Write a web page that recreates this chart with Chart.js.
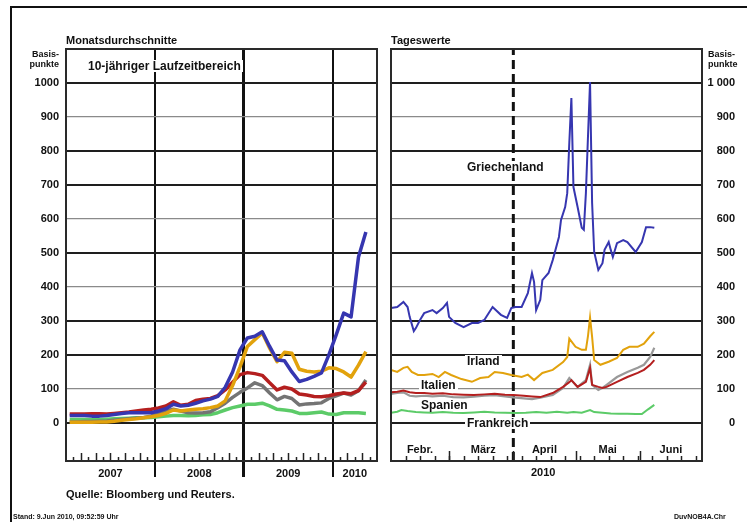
<!DOCTYPE html>
<html>
<head>
<meta charset="utf-8">
<script src="https://cdn.jsdelivr.net/npm/chart.js@4"></script>
<style>
  body { margin: 0; width: 747px; height: 522px; overflow: hidden; position: relative; background: #fff;
         font-family: 'Liberation Sans', Arial, sans-serif; font-weight: bold; color: #111; }
  canvas { position: absolute; left: 0; top: 0; }
  .t { position: absolute; white-space: nowrap; line-height: 1; }
  .bg { background: #fff; padding: 0 2px; }
  #outer { position: absolute; left: 10px; top: 6px; width: 737px; height: 516px;
           border-top: 2px solid #111; border-left: 2px solid #111; }
</style>
</head>
<body>
<div id="outer"></div>
<canvas id="left" width="747" height="522"></canvas>
<canvas id="right" width="747" height="522"></canvas>

<div class="t" style="left:66px;top:35px;font-size:11px">Monatsdurchschnitte</div>
<div class="t" style="left:391px;top:35px;font-size:11px">Tageswerte</div>
<div class="t" style="right:688px;top:49px;font-size:9px;line-height:10px;text-align:right">Basis-<br>punkte</div>
<div class="t" style="left:708px;top:49px;font-size:9px;line-height:10px">Basis-<br>punkte</div>
<div class="t bg" style="left:86px;top:60px;font-size:12px">10-jähriger Laufzeitbereich</div>

<div class="t bg" style="left:465px;top:161px;font-size:12px">Griechenland</div>
<div class="t bg" style="left:465px;top:355px;font-size:12px">Irland</div>
<div class="t bg" style="left:419px;top:379px;font-size:12px">Italien</div>
<div class="t bg" style="left:419px;top:399px;font-size:12px">Spanien</div>
<div class="t bg" style="left:465px;top:417px;font-size:12px">Frankreich</div>

<div class="t" style="left:531px;top:467px;font-size:11px">2010</div>
<div class="t" style="left:66px;top:489px;font-size:11px">Quelle: Bloomberg und Reuters.</div>
<div class="t" style="left:13px;top:513px;font-size:7px">Stand: 9.Jun 2010, 09:52:59 Uhr</div>
<div class="t" style="left:674px;top:513px;font-size:7px">DuvNOB4A.Chr</div>

<script>
// monthly averages, Jan 2007 .. May 2010
const grMonthly = [22,22,22,20,20,22,25,28,30,30,30,30, 35,42,55,50,52,58,65,70,78,105,150,215,
                   250,255,268,225,185,183,150,122,128,137,147,200, 260,323,312,488,562];
const ieMonthly = [2,2,2,2,3,3,5,8,10,12,15,18, 22,28,38,35,38,40,42,45,50,65,110,165,
                   225,245,265,220,180,208,205,158,152,150,152,162, 160,150,135,170,210];
const itMonthly = [26,26,26,27,27,26,28,30,32,35,38,40, 44,50,62,52,55,66,70,72,80,97,120,142,
                   148,145,140,118,97,105,100,85,82,78,77,80, 85,88,86,95,120];
const esMonthly = [3,3,4,4,5,6,8,10,12,14,16,20, 28,35,40,35,30,29,30,33,45,58,75,90,
                   103,118,110,88,68,78,72,53,56,57,59,72, 80,88,82,95,126];
const frMonthly = [10,10,10,10,10,11,12,13,14,15,15,16, 18,20,22,22,21,22,24,25,30,38,45,50,
                   55,55,58,50,40,38,35,28,28,30,32,26, 25,30,30,30,28];

const years = ['2007', '2008', '2009', '2010'];
const yearMid = [6, 18, 30, 39];
const yearBreaks = [12, 24, 36];

// daily values, day 0 = 1 Feb 2010
const grDays = [0,3,6,8,9,11,12,14,16,20,22,25,27,28,31,35,39,42,45,49,53,56,58,60,63,66,68,69,70,72,73,76,78,81,82,84,85,86,87,88,90,92,93,94,95,96,97,98,100,102,103,105,106,107,109,112,114,118,121,123,125,127];
const grVals = [338,341,356,341,312,270,279,303,323,332,323,338,353,312,294,282,294,294,303,341,318,309,338,341,341,382,441,415,332,362,420,441,479,547,597,635,676,824,956,694,635,574,568,676,841,1003,647,503,450,470,509,532,509,488,529,538,532,503,532,576,576,574];
const ieDays = [0,3,6,8,10,13,16,20,23,26,29,34,39,43,47,50,54,58,63,66,69,73,78,83,85,86,89,92,94,95,96,97,98,101,105,109,112,115,119,122,125,127];
const ieVals = [156,150,162,165,150,141,141,144,135,150,141,129,121,132,135,150,147,141,135,142,126,147,156,179,194,248,224,215,215,255,310,253,185,171,180,191,215,224,224,233,255,268];
const itDays = [0,3,6,9,12,16,20,25,30,35,40,45,50,55,59,64,68,72,78,83,86,87,90,94,96,97,100,102,104,109,114,119,122,125,127];
const itVals = [90,92,95,90,88,88,86,87,84,83,82,84,86,83,82,80,78,76,88,106,120,126,106,121,162,112,106,103,106,121,135,147,156,171,185];
const esDays = [0,3,6,9,12,16,20,25,30,35,40,45,50,55,59,64,68,72,78,83,86,90,94,96,97,100,102,104,109,114,119,122,125,127];
const esVals = [85,88,90,80,78,80,78,80,76,75,77,80,82,78,75,72,70,74,82,103,132,106,126,171,112,97,103,112,135,150,162,171,194,221];
const frDays = [0,3,5,8,12,16,20,25,30,35,40,45,50,55,60,65,70,75,80,85,88,92,96,98,102,106,110,114,118,121,124,127];
const frVals = [30,33,38,35,32,31,30,32,30,29,31,33,31,30,29,30,32,30,33,30,32,30,38,32,30,28,27,27,26,26,40,53];

const months = ['Febr.', 'März', 'April', 'Mai', 'Juni'];
const monthMid = [14, 44.5, 74, 104.5, 135];
const monthStart = [28, 59, 89, 120];
const markerDay = 59;

const yTicks = [0,100,200,300,400,500,600,700,800,900,1000];
const thinLines = [100, 400, 600, 900];

const BLUE = '#3636b0', ORANGE = '#e2a20c', RED = '#b41f1f', GRAY = '#747474', GREEN = '#5ccb68';
const FONT = { family: "'Liberation Sans', Arial, sans-serif", size: 11, weight: 'bold' };

const monthPos = grMonthly.map((_, i) => i + 0.5);
const pts = (xs, ys) => xs.map((x, i) => ({ x, y: ys[i] }));

const gridColor = c => thinLines.includes(c.tick.value) ? '#8a8a8a' : '#1e1e1e';
const gridWidth = c => thinLines.includes(c.tick.value) ? 1.2 : 2;

// plot frame and inner tick marks along the bottom
const framePlugin = {
  id: 'frame',
  afterDraw(chart, args, opts) {
    const { ctx, chartArea: a, scales } = chart;
    ctx.save();
    ctx.strokeStyle = '#222';
    ctx.lineWidth = 1.5;
    (opts.marks || []).forEach(m => {
      const x = Math.round(scales.x.getPixelForValue(m.v)) + 0.5;
      ctx.beginPath();
      ctx.moveTo(x, a.bottom);
      ctx.lineTo(x, a.bottom - m.len);
      ctx.stroke();
    });
    ctx.lineWidth = 2;
    ctx.strokeStyle = '#2a2a2a';
    ctx.strokeRect(a.left, a.top, a.right - a.left, a.bottom - a.top);
    ctx.restore();
  }
};

const baseY = {
  type: 'linear', min: -112, max: 1100,
  afterBuildTicks: s => { s.ticks = yTicks.map(v => ({ value: v })); },
  grid: { color: gridColor, lineWidth: gridWidth, drawTicks: false },
  border: { display: false },
  ticks: { font: FONT, color: '#111', padding: 7 }
};

const leftMarks = [];
for (let m = 1; m < 42; m++) {
  if (!yearBreaks.includes(m)) leftMarks.push({ v: m, len: m % 2 ? 4 : 8 });
}

new Chart(document.getElementById('left'), {
  type: 'line',
  data: {
    datasets: [
      { data: pts(monthPos, grMonthly), borderColor: BLUE, borderWidth: 3.5 },
      { data: pts(monthPos, ieMonthly), borderColor: ORANGE, borderWidth: 3.5 },
      { data: pts(monthPos, itMonthly), borderColor: RED, borderWidth: 3.5 },
      { data: pts(monthPos, esMonthly), borderColor: GRAY, borderWidth: 3.5 },
      { data: pts(monthPos, frMonthly), borderColor: GREEN, borderWidth: 3.5 }
    ]
  },
  options: {
    responsive: false, animation: false,
    layout: { padding: { left: 10, top: 49, right: 370, bottom: 0 } },
    elements: { point: { radius: 0 }, line: { tension: 0, borderJoinStyle: 'round' } },
    plugins: { legend: { display: false }, tooltip: { enabled: false }, frame: { marks: leftMarks } },
    scales: {
      x: {
        type: 'linear', min: 0, max: 42,
        afterBuildTicks: s => { s.ticks = yearMid.concat(yearBreaks).map(v => ({ value: v })); },
        afterFit: s => { s.height = 61; },
        grid: {
          color: c => yearBreaks.includes(c.tick.value) ? '#111' : 'rgba(0,0,0,0)',
          lineWidth: c => c.tick.value === 24 ? 3 : 2,
          tickLength: 16
        },
        border: { display: false },
        ticks: {
          autoSkip: false, maxRotation: 0, font: FONT, color: '#111', padding: -10,
          callback: v => { const i = yearMid.indexOf(v); return i >= 0 ? years[i] : ''; }
        }
      },
      y: Object.assign({}, baseY, {
        position: 'left',
        afterFit: s => { s.width = 56; },
        ticks: Object.assign({}, baseY.ticks, { callback: v => String(v) })
      })
    }
  },
  plugins: [framePlugin]
});

const rightMarks = [];
for (let d = 7; d < 150; d += 7) rightMarks.push({ v: d, len: 5 });
monthStart.forEach(d => rightMarks.push({ v: d, len: 10 }));

new Chart(document.getElementById('right'), {
  type: 'line',
  data: {
    datasets: [
      { data: pts(grDays, grVals), borderColor: BLUE, borderWidth: 2 },
      { data: pts(ieDays, ieVals), borderColor: ORANGE, borderWidth: 2 },
      { data: pts(itDays, itVals), borderColor: RED, borderWidth: 2 },
      { data: pts(esDays, esVals), borderColor: '#999', borderWidth: 2.2 },
      { data: pts(frDays, frVals), borderColor: GREEN, borderWidth: 2 },
      { data: [{ x: markerDay, y: -112 }, { x: markerDay, y: 1100 }], borderColor: '#111', borderWidth: 3, borderDash: [9, 5] }
    ]
  },
  options: {
    responsive: false, animation: false,
    layout: { padding: { left: 391, top: 49, right: 12, bottom: 0 } },
    elements: { point: { radius: 0 }, line: { tension: 0 } },
    plugins: { legend: { display: false }, tooltip: { enabled: false }, frame: { marks: rightMarks } },
    scales: {
      x: {
        type: 'linear', min: 0, max: 150,
        afterBuildTicks: s => { s.ticks = monthMid.map(v => ({ value: v })); },
        afterFit: s => { s.height = 61; },
        grid: { display: false, drawTicks: false },
        border: { display: false },
        ticks: {
          autoSkip: false, maxRotation: 0, mirror: true, font: FONT, color: '#111', padding: 4,
          callback: v => months[monthMid.indexOf(v)]
        }
      },
      y: Object.assign({}, baseY, {
        position: 'right',
        afterFit: s => { s.width = 33; },
        ticks: Object.assign({}, baseY.ticks, { crossAlign: 'far', callback: v => v === 1000 ? '1 000' : String(v) })
      })
    }
  },
  plugins: [framePlugin]
});
</script>
</body>
</html>
